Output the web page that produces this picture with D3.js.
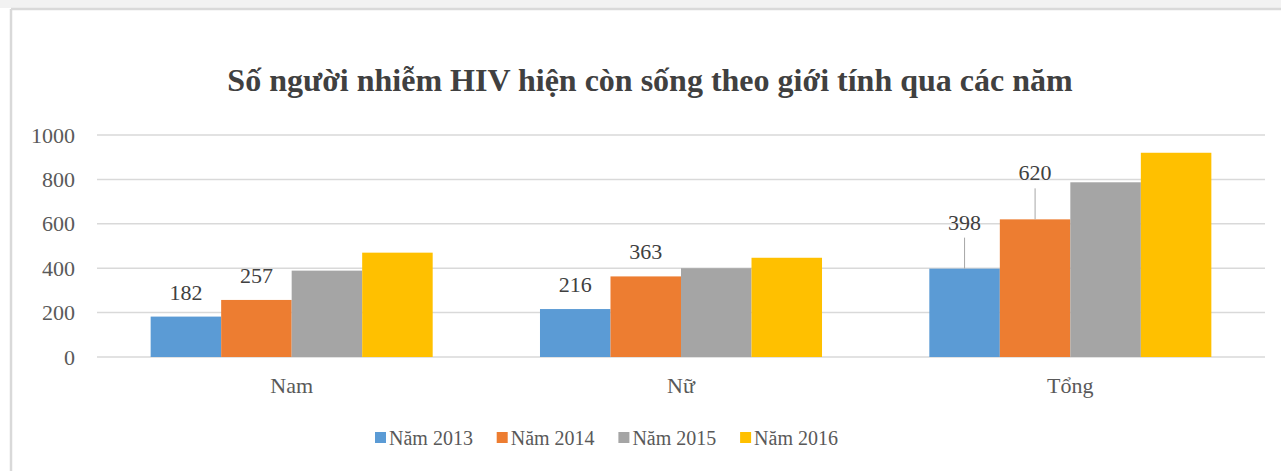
<!DOCTYPE html>
<html>
<head>
<meta charset="utf-8">
<script src="https://cdn.jsdelivr.net/npm/d3@7"></script>
<style>
  body { margin: 0; background: #fff; }
  text { font-family: "Liberation Serif", "Times New Roman", serif; }
</style>
</head>
<body>
<div id="chart"></div>
<script>
// categories and series
var categories = ["Nam", "Nữ", "Tổng"];
var seriesNames = ["Năm 2013", "Năm 2014", "Năm 2015", "Năm 2016"];
var values2013 = [182, 216, 398];
var values2014 = [257, 363, 620];
var values2015 = [389, 400, 787];
var values2016 = [470, 447, 920];
var yTicks = [0, 200, 400, 600, 800, 1000];
var labelledSeries = ["Năm 2013", "Năm 2014"];
var colors = ["#5B9BD5", "#ED7D31", "#A5A5A5", "#FFC000"];

function drawChart() {
    var width = 1281, height = 471;
    var plotLeft = 97, plotRight = 1265, plotTop = 135, plotBottom = 357;

    var svg = d3.select('#chart')
                .append('svg')
                .attr('width', width)
                .attr('height', height);

    // frame
    svg.append('rect').attr('x', 0).attr('y', 0).attr('width', width).attr('height', 8).attr('fill', '#f2f2f2');
    svg.append('line').attr('x1', 11).attr('x2', width).attr('y1', 9).attr('y2', 9)
       .attr('stroke', '#d9d9d9').attr('stroke-width', 2.5);
    svg.append('line').attr('x1', 11).attr('x2', 11).attr('y1', 9).attr('y2', height)
       .attr('stroke', '#d9d9d9').attr('stroke-width', 2.5);

    svg.append('text')
        .attr('x', 650)
        .attr('y', 91)
        .attr('text-anchor', 'middle')
        .style('font-size', '32px')
        .style('font-weight', 'bold')
        .attr('fill', '#404040')
        .text('Số người nhiễm HIV hiện còn sống theo giới tính qua các năm');

    var allSeries = [values2013, values2014, values2015, values2016];

    var x0 = d3.scaleBand()
                .domain(categories)
                .range([plotLeft, plotRight])
                .paddingInner(0.2756)
                .paddingOuter(0.1378);
    var x1 = d3.scaleBand()
                .domain(seriesNames)
                .range([0, x0.bandwidth()]);
    var y = d3.scaleLinear()
                .domain([0, 1000])
                .range([plotBottom, plotTop]);

    // gridlines
    svg.append('g')
        .selectAll('line')
        .data(yTicks)
        .join('line')
        .attr('x1', plotLeft).attr('x2', plotRight)
        .attr('y1', d => y(d)).attr('y2', d => y(d))
        .attr('stroke', '#d9d9d9')
        .attr('stroke-width', 1.5);

    // y axis labels
    var yAxis = svg.append('g')
        .attr('transform', `translate(${plotLeft - 22}, 0)`)
        .call(d3.axisLeft(y).tickValues(yTicks).tickFormat(d3.format('d')).tickSize(0).tickPadding(0));
    yAxis.select('.domain').remove();
    yAxis.selectAll('text')
        .style('font-size', '22px')
        .attr('fill', '#595959')
        .style('font-family', '"Liberation Serif", serif');

    // x axis labels
    var xAxis = svg.append('g')
        .attr('transform', `translate(0, ${plotBottom})`)
        .call(d3.axisBottom(x0).tickSize(0).tickPadding(20));
    xAxis.select('.domain').remove();
    xAxis.selectAll('text')
        .style('font-size', '22px')
        .attr('fill', '#595959')
        .style('font-family', '"Liberation Serif", serif');

    // bars
    var groups = svg.append('g')
        .selectAll('g')
        .data(categories)
        .join('g')
        .attr('transform', d => `translate(${x0(d)}, 0)`);

    groups.selectAll('rect')
        .data((c, i) => seriesNames.map((s, j) => ({ series: s, value: allSeries[j][i], idx: j })))
        .join('rect')
        .attr('x', d => x1(d.series))
        .attr('y', d => y(d.value))
        .attr('width', x1.bandwidth())
        .attr('height', d => plotBottom - y(d.value))
        .attr('fill', d => colors[d.idx]);

    // data labels (Tổng labels are lifted with a leader line)
    groups.each(function(c, i) {
        var g = d3.select(this);
        var lifted = c === 'Tổng';
        labelledSeries.forEach(function(s) {
            var j = seriesNames.indexOf(s);
            var v = allSeries[j][i];
            var cx = x1(s) + x1.bandwidth() / 2;
            var base = y(v) - (lifted ? 39 : 17);
            if (lifted) {
                g.append('line')
                    .attr('x1', cx).attr('x2', cx)
                    .attr('y1', base + 8).attr('y2', y(v))
                    .attr('stroke', '#a6a6a6')
                    .attr('stroke-width', 1);
            }
            g.append('text')
                .attr('x', cx)
                .attr('y', base)
                .attr('text-anchor', 'middle')
                .style('font-size', '22px')
                .attr('fill', '#404040')
                .text(v);
        });
    });

    // legend
    var legend = svg.append('g')
        .selectAll('g')
        .data(seriesNames)
        .join('g')
        .attr('transform', (d, i) => `translate(${375 + i * 121.7}, 445)`);
    legend.append('rect')
        .attr('x', 0).attr('y', -13)
        .attr('width', 11).attr('height', 11)
        .attr('fill', (d, i) => colors[i]);
    legend.append('text')
        .attr('x', 14)
        .attr('y', 0)
        .style('font-size', '20px')
        .attr('fill', '#595959')
        .text(d => d);
}

window.onload = drawChart;
</script>
</body>
</html>
